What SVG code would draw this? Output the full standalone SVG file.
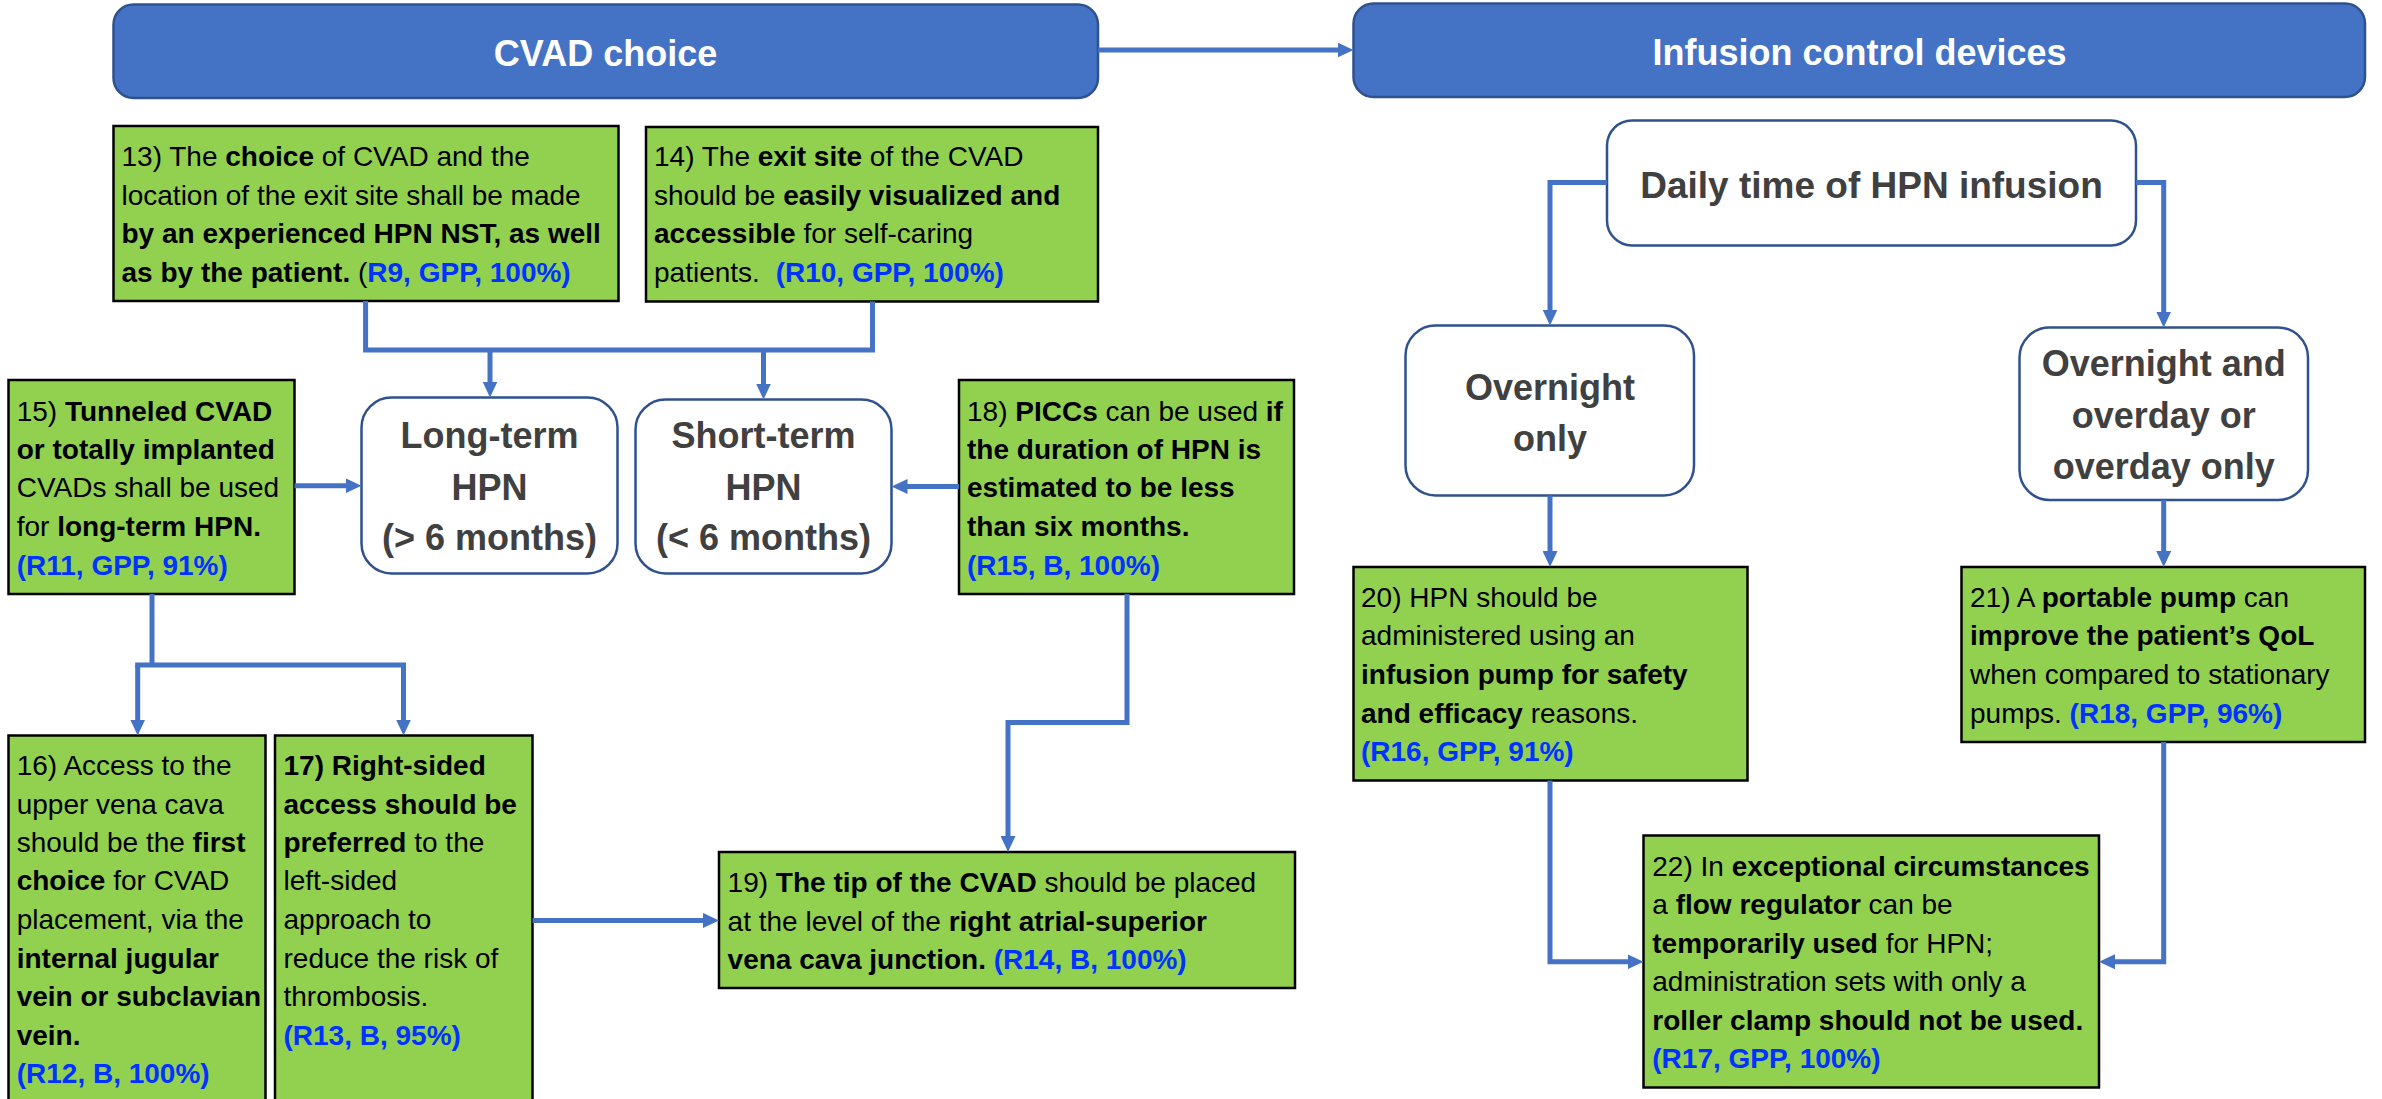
<svg xmlns="http://www.w3.org/2000/svg" width="2382" height="1099" viewBox="0 0 2382 1099">
<style>
.hdr{fill:#4472C4;stroke:#2F528F;stroke-width:2.5}
.ht{font-family:"Liberation Sans",Arial,sans-serif;font-size:36px;font-weight:bold;fill:#fff;text-anchor:middle}
.nd{fill:#fff;stroke:#2F528F;stroke-width:2.5}
.nt{font-family:"Liberation Sans",Arial,sans-serif;font-size:36px;font-weight:bold;fill:#404040;text-anchor:middle}
.gb{fill:#92D050;stroke:#000;stroke-width:2.5}
.t{font-family:"Liberation Sans",Arial,sans-serif;font-size:28px;fill:#000}
.b{font-weight:bold}
.r{font-weight:bold;fill:#0033FF}
.c{fill:none;stroke:#4472C4;stroke-width:5}
.a{marker-end:url(#ah)}
</style>
<defs>
<marker id="ah" markerUnits="userSpaceOnUse" markerWidth="16" markerHeight="15" refX="8" refY="7.5" orient="auto">
<path d="M0,0 L16,7.5 L0,15 z" fill="#4472C4"/>
</marker>
</defs>
<rect width="2382" height="1099" fill="#fff"/>

<g id="hdr-cvad">
<rect class="hdr" x="113.5" y="4.5" width="984.5" height="93.5" rx="20"/>
<text class="ht" x="605.5" y="66">CVAD choice</text>
</g>
<g id="hdr-infusion">
<rect class="hdr" x="1353.5" y="3.5" width="1011.5" height="93.5" rx="20"/>
<text class="ht" x="1859.5" y="65">Infusion control devices</text>
</g>

<g id="n13">
<rect class="gb" x="113.5" y="126" width="505" height="175"/>
<text class="t" x="121.5" y="166">13) The <tspan class="b">choice</tspan> of CVAD and the</text>
<text class="t" x="121.5" y="204.5">location of the exit site shall be made</text>
<text class="t b" x="121.5" y="243">by an experienced HPN NST, as well</text>
<text class="t" x="121.5" y="281.5"><tspan class="b">as by the patient. </tspan>(<tspan class="r">R9, GPP, 100%)</tspan></text>
</g>
<g id="n14">
<rect class="gb" x="646" y="127" width="452" height="174.5"/>
<text class="t" x="654" y="166">14) The <tspan class="b">exit site</tspan> of the CVAD</text>
<text class="t" x="654" y="204.5">should be <tspan class="b">easily visualized and</tspan></text>
<text class="t" x="654" y="243"><tspan class="b">accessible</tspan> for self-caring</text>
<text class="t" x="654" y="281.5">patients. <tspan class="r" dx="8">(R10, GPP, 100%)</tspan></text>
</g>

<g id="n-long">
<rect class="nd" x="361.5" y="397.5" width="256" height="176" rx="30"/>
<text class="nt" x="489.5" y="448">Long-term</text>
<text class="nt" x="489.5" y="500">HPN</text>
<text class="nt" x="489.5" y="550">(&gt; 6 months)</text>
</g>
<g id="n-short">
<rect class="nd" x="635.5" y="399.5" width="256" height="174" rx="30"/>
<text class="nt" x="763.5" y="448">Short-term</text>
<text class="nt" x="763.5" y="500">HPN</text>
<text class="nt" x="763.5" y="550">(&lt; 6 months)</text>
</g>

<g id="n15">
<rect class="gb" x="8.5" y="380" width="286" height="214"/>
<text class="t" x="16.7" y="421">15) <tspan class="b">Tunneled CVAD</tspan></text>
<text class="t b" x="16.7" y="459">or totally implanted</text>
<text class="t" x="16.7" y="497">CVADs shall be used</text>
<text class="t" x="16.7" y="536">for <tspan class="b">long-term HPN.</tspan></text>
<text class="t r" x="16.7" y="575">(R11, GPP, 91%)</text>
</g>
<g id="n18">
<rect class="gb" x="959" y="380" width="335" height="214"/>
<text class="t" x="967" y="421">18) <tspan class="b">PICCs</tspan> can be used <tspan class="b">if</tspan></text>
<text class="t b" x="967" y="459">the duration of HPN is</text>
<text class="t b" x="967" y="497">estimated to be less</text>
<text class="t b" x="967" y="536">than six months.</text>
<text class="t r" x="967" y="575">(R15, B, 100%)</text>
</g>

<g id="n16">
<rect class="gb" x="8.5" y="735.5" width="257" height="370"/>
<text class="t" x="16.7" y="775">16) Access to the</text>
<text class="t" x="16.7" y="814">upper vena cava</text>
<text class="t" x="16.7" y="852">should be the <tspan class="b">first</tspan></text>
<text class="t" x="16.7" y="890"><tspan class="b">choice</tspan> for CVAD</text>
<text class="t" x="16.7" y="929">placement, via the</text>
<text class="t b" x="16.7" y="967.5">internal jugular</text>
<text class="t b" x="16.7" y="1006">vein or subclavian</text>
<text class="t b" x="16.7" y="1044.5">vein.</text>
<text class="t r" x="16.7" y="1083">(R12, B, 100%)</text>
</g>
<g id="n17">
<rect class="gb" x="275" y="735.5" width="257.5" height="370"/>
<text class="t b" x="283.5" y="775">17) Right-sided</text>
<text class="t b" x="283.5" y="814">access should be</text>
<text class="t" x="283.5" y="852"><tspan class="b">preferred</tspan> to the</text>
<text class="t" x="283.5" y="890">left-sided</text>
<text class="t" x="283.5" y="929">approach to</text>
<text class="t" x="283.5" y="967.5">reduce the risk of</text>
<text class="t" x="283.5" y="1006">thrombosis.</text>
<text class="t r" x="283.5" y="1044.5">(R13, B, 95%)</text>
</g>

<g id="n19">
<rect class="gb" x="719" y="852" width="576" height="136"/>
<text class="t" x="727.6" y="892">19) <tspan class="b">The tip of the CVAD</tspan> should be placed</text>
<text class="t" x="727.6" y="930.5">at the level of the <tspan class="b">right atrial-superior</tspan></text>
<text class="t" x="727.6" y="968.5"><tspan class="b">vena cava junction. </tspan><tspan class="r">(R14, B, 100%)</tspan></text>
</g>

<g id="n-daily">
<rect class="nd" x="1607" y="120.5" width="529" height="125" rx="25"/>
<text class="nt" x="1871.5" y="198" style="font-size:37px">Daily time of HPN infusion</text>
</g>
<g id="n-overnight">
<rect class="nd" x="1405.5" y="325.5" width="288.5" height="170" rx="30"/>
<text class="nt" x="1550" y="399.5">Overnight</text>
<text class="nt" x="1550" y="451">only</text>
</g>
<g id="n-overday">
<rect class="nd" x="2019.5" y="327.5" width="288.5" height="172.5" rx="30"/>
<text class="nt" x="2163.7" y="376">Overnight and</text>
<text class="nt" x="2163.7" y="428">overday or</text>
<text class="nt" x="2163.7" y="479">overday only</text>
</g>

<g id="n20">
<rect class="gb" x="1353.5" y="567" width="394" height="213.5"/>
<text class="t" x="1361" y="607">20) HPN should be</text>
<text class="t" x="1361" y="645">administered using an</text>
<text class="t b" x="1361" y="684">infusion pump for safety</text>
<text class="t" x="1361" y="722.5"><tspan class="b">and efficacy</tspan> reasons.</text>
<text class="t r" x="1361" y="761">(R16, GPP, 91%)</text>
</g>
<g id="n21">
<rect class="gb" x="1961.5" y="567" width="403.5" height="175"/>
<text class="t" x="1970" y="607">21) A <tspan class="b">portable pump</tspan> can</text>
<text class="t b" x="1970" y="645">improve the patient’s QoL</text>
<text class="t" x="1970" y="684">when compared to stationary</text>
<text class="t" x="1970" y="722.5">pumps. <tspan class="r">(R18, GPP, 96%)</tspan></text>
</g>
<g id="n22">
<rect class="gb" x="1643.5" y="835.5" width="455.5" height="252"/>
<text class="t" x="1652.3" y="876">22) In <tspan class="b">exceptional circumstances</tspan></text>
<text class="t" x="1652.3" y="914">a <tspan class="b">flow regulator</tspan> can be</text>
<text class="t" x="1652.3" y="952.5"><tspan class="b">temporarily used</tspan> for HPN;</text>
<text class="t" x="1652.3" y="991">administration sets with only a</text>
<text class="t b" x="1652.3" y="1029.5">roller clamp should not be used.</text>
<text class="t r" x="1652.3" y="1068">(R17, GPP, 100%)</text>
</g>

<g id="connectors">
<path class="c a" d="M1098,50 H1345.5"/>
<path class="c" d="M365.6,301 V350 H872.5 V301.5"/>
<path class="c a" d="M490,350 V389.5"/>
<path class="c a" d="M763.5,350 V391.5"/>
<path class="c a" d="M294.5,485.7 H353.5"/>
<path class="c a" d="M959,486.5 H899.5"/>
<path class="c" d="M152,594 V665"/>
<path class="c a" d="M137.7,665 V727.5"/>
<path class="c a" d="M403.5,665 V727.5"/>
<path class="c" d="M135.2,665 H406"/>
<path class="c a" d="M1127,594 V722.5 H1008 V844"/>
<path class="c a" d="M532.5,920.4 H711"/>
<path class="c a" d="M1607,182.4 H1550 V317.5"/>
<path class="c a" d="M2136,182.4 H2163.7 V319.5"/>
<path class="c a" d="M1550,495.5 V559"/>
<path class="c a" d="M2163.7,500 V559"/>
<path class="c a" d="M1550,780.5 V961.8 H1635.5"/>
<path class="c a" d="M2163.7,742 V961.8 H2107"/>
</g>
</svg>
